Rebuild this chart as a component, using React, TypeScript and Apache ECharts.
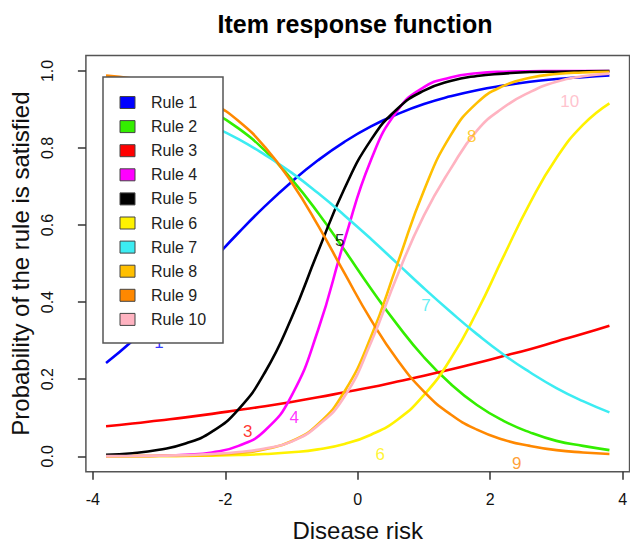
import React, { useEffect, useRef } from "react";
import * as echarts from "echarts";

// ---------- data ----------
const xValues = [-3.8, -3.4, -3.0, -2.6, -2.2, -1.8, -1.4, -1.0, -0.6, -0.2, 0.2, 0.6, 1.0, 1.4, 1.8, 2.2, 2.6, 3.0, 3.4, 3.8];

const ruleNames = ["Rule 1", "Rule 2", "Rule 3", "Rule 4", "Rule 5", "Rule 6", "Rule 7", "Rule 8", "Rule 9", "Rule 10"];

const rule1 = [0.242, 0.300, 0.365, 0.435, 0.507, 0.580, 0.649, 0.712, 0.768, 0.816, 0.856, 0.888, 0.914, 0.934, 0.950, 0.962, 0.972, 0.979, 0.984, 0.988];
const rule2 = [0.982, 0.972, 0.952, 0.927, 0.895, 0.851, 0.793, 0.719, 0.632, 0.535, 0.435, 0.341, 0.257, 0.188, 0.133, 0.092, 0.062, 0.040, 0.027, 0.016];
const rule3 = [0.078, 0.085, 0.093, 0.101, 0.110, 0.120, 0.130, 0.141, 0.153, 0.166, 0.179, 0.194, 0.209, 0.225, 0.242, 0.260, 0.278, 0.298, 0.318, 0.339];
const rule4 = [0.0002, 0.0006, 0.0015, 0.004, 0.010, 0.027, 0.067, 0.157, 0.327, 0.560, 0.769, 0.897, 0.958, 0.983, 0.994, 0.998, 0.999, 0.9995, 0.9997, 0.9998];
const rule5 = [0.004, 0.008, 0.017, 0.033, 0.064, 0.122, 0.218, 0.359, 0.531, 0.695, 0.821, 0.902, 0.949, 0.974, 0.987, 0.993, 0.997, 0.998, 0.999, 0.9995];
const rule6 = [0.0002, 0.0003, 0.0006, 0.001, 0.0018, 0.0032, 0.0058, 0.0103, 0.018, 0.032, 0.056, 0.095, 0.159, 0.252, 0.375, 0.518, 0.657, 0.774, 0.860, 0.916];
const rule7 = [0.944, 0.928, 0.909, 0.886, 0.857, 0.823, 0.782, 0.736, 0.683, 0.625, 0.564, 0.500, 0.436, 0.375, 0.317, 0.264, 0.218, 0.177, 0.143, 0.114];
const rule8 = [0.0002, 0.0003, 0.0008, 0.0017, 0.0037, 0.008, 0.018, 0.039, 0.083, 0.168, 0.310, 0.500, 0.690, 0.832, 0.917, 0.961, 0.982, 0.992, 0.996, 0.998];
const rule9 = [0.988, 0.980, 0.968, 0.948, 0.917, 0.870, 0.802, 0.711, 0.599, 0.475, 0.354, 0.250, 0.168, 0.109, 0.069, 0.043, 0.027, 0.016, 0.010, 0.006];
const rule10 = [0.0003, 0.0007, 0.0015, 0.003, 0.006, 0.011, 0.020, 0.038, 0.080, 0.155, 0.295, 0.470, 0.625, 0.745, 0.845, 0.905, 0.945, 0.972, 0.986, 0.993];

const xTicks = [-4, -2, 0, 2, 4];
const yTicks = [0, 0.2, 0.4, 0.6, 0.8, 1.0];

// curve labels written on the plot (text, x, y, rule index)
const curveLabelText = ["1", "3", "4", "5", "6", "7", "8", "9", "10"];
const curveLabelX = [-3.0, -1.66, -0.96, -0.27, 0.34, 1.03, 1.72, 2.4, 3.2];
const curveLabelY = [0.295, 0.065, 0.10, 0.56, 0.005, 0.39, 0.83, -0.02, 0.92];
const curveLabelRule = [0, 2, 3, 4, 5, 6, 7, 8, 9];

// ---------- styles ----------
const ruleColors = ["#0000FF", "#33EE00", "#FF0000", "#FF00FF", "#000000", "#FFF200", "#3CECF2", "#FFBF00", "#FF8800", "#FFB3C1"];
const FONT = '"Liberation Sans", Arial, Helvetica, sans-serif';

export default function App() {
  const ref = useRef<HTMLDivElement>(null);

  useEffect(() => {
    if (!ref.current) return;
    const chart = echarts.init(ref.current, null, { renderer: "svg" });
    const ruleData = [rule1, rule2, rule3, rule4, rule5, rule6, rule7, rule8, rule9, rule10];

    const series: any[] = ruleData.map((vals, i) => ({
      name: ruleNames[i],
      type: "line",
      data: xValues.map((x, j) => [x, vals[j]]),
      smooth: true,
      showSymbol: false,
      symbol: "none",
      silent: true,
      lineStyle: { color: ruleColors[i], width: 2.6 },
      itemStyle: { color: ruleColors[i] },
      z: 2,
    }));

    series.push({
      name: "labels",
      type: "scatter",
      symbolSize: 1,
      silent: true,
      itemStyle: { color: "rgba(0,0,0,0)" },
      z: 3,
      data: curveLabelText.map((t, k) => ({
        value: [curveLabelX[k], curveLabelY[k]],
        label: {
          show: true,
          position: "inside",
          formatter: t,
          color: ruleColors[curveLabelRule[k]],
          fontSize: 17,
          fontFamily: FONT,
        },
      })),
    });

    // legend box (drawn on top of the curves, as in the reference)
    const legLeft = 103;
    const legTop = 77;
    const legW = 120;
    const legH = 266;
    const rowGap = 24.1;
    const firstRow = 102.5;
    const Z = 100;
    const graphics: any[] = [
      {
        type: "text",
        x: 355,
        y: 24,
        z: Z,
        style: {
          text: "Item response function",
          fontSize: 25,
          fontWeight: "bold",
          fontFamily: FONT,
          fill: "#000000",
          align: "center",
          verticalAlign: "middle",
        },
      },
      {
        type: "rect",
        z: Z,
        shape: { x: legLeft, y: legTop, width: legW, height: legH },
        style: { fill: "#ffffff", stroke: "#555555", lineWidth: 1.5 },
      },
    ];
    ruleNames.forEach((name, i) => {
      const cy = firstRow + rowGap * i;
      graphics.push({
        type: "rect",
        z: Z + 1,
        shape: { x: 120, y: cy - 6, width: 15, height: 12 },
        style: { fill: ruleColors[i], stroke: "#444444", lineWidth: 1 },
      });
      graphics.push({
        type: "text",
        z: Z + 1,
        x: 151,
        y: cy,
        style: {
          text: name,
          fontSize: 16,
          fontFamily: FONT,
          fill: "#222222",
          align: "left",
          verticalAlign: "middle",
        },
      });
    });

    chart.setOption({
      animation: false,
      backgroundColor: "#ffffff",
      textStyle: { fontFamily: FONT },
      grid: {
        left: 76,
        top: 55.5,
        width: 558,
        height: 416.2,
        show: true,
        borderColor: "#555555",
        borderWidth: 1.5,
        backgroundColor: "transparent",
        containLabel: false,
      },
      xAxis: {
        type: "value",
        min: -4.104,
        max: 4.104,
        axisLine: { show: false, onZero: false },
        splitLine: { show: false },
        axisTick: { show: true, customValues: xTicks, length: 8, lineStyle: { color: "#333333", width: 1.5 } },
        axisLabel: { customValues: xTicks, fontSize: 16, color: "#111111", margin: 20, fontFamily: FONT },
        name: "Disease risk",
        nameLocation: "middle",
        nameGap: 47,
        nameTextStyle: { fontSize: 24, color: "#111111", fontFamily: FONT },
      },
      yAxis: {
        type: "value",
        min: -0.04,
        max: 1.04,
        axisLine: { show: false, onZero: false },
        splitLine: { show: false },
        axisTick: { show: true, customValues: yTicks, length: 8, lineStyle: { color: "#333333", width: 1.5 } },
        axisLabel: {
          customValues: yTicks,
          rotate: 90,
          fontSize: 16,
          color: "#111111",
          margin: 30,
          fontFamily: FONT,
          formatter: (v: number) => v.toFixed(1),
        },
        name: "Probability of the rule is satisfied",
        nameLocation: "middle",
        nameGap: 42,
        nameTextStyle: { fontSize: 24, color: "#111111", fontFamily: FONT },
      },
      series,
      graphic: graphics,
    });

    return () => {
      chart.dispose();
    };
  }, []);

  return (
    <div
      ref={ref}
      style={{ position: "fixed", left: 0, top: 0, width: 630, height: 548, background: "#ffffff" }}
    />
  );
}
